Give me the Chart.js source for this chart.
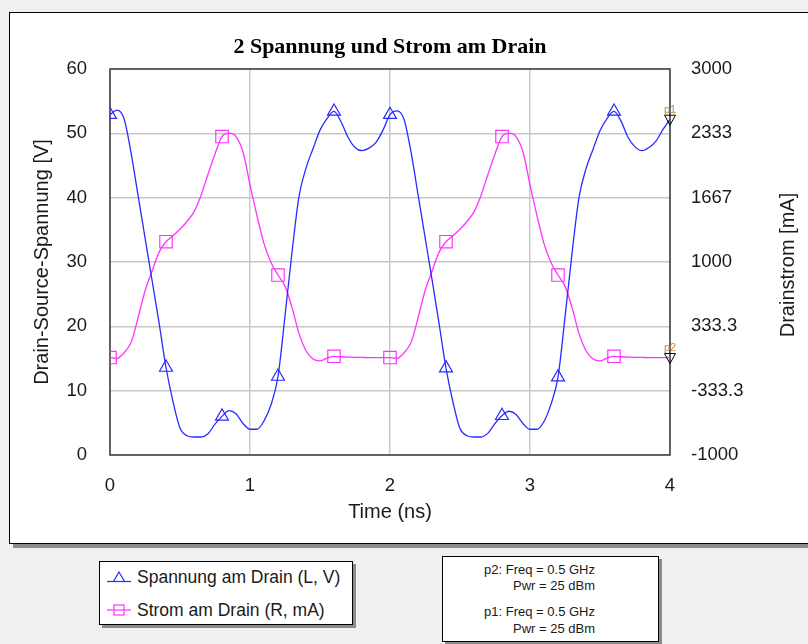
<!DOCTYPE html>
<html>
<head>
<meta charset="utf-8">
<script src="https://cdn.jsdelivr.net/npm/chart.js@4.4.1/dist/chart.umd.min.js"></script>
<style>
html, body { margin: 0; padding: 0; }
body { width: 808px; height: 644px; background: #f0f0f0; position: relative; overflow: hidden; font-family: "Liberation Sans", Arial, sans-serif; color: #1a1a1a; }
#frame { position: absolute; left: 9px; top: 12px; width: 830px; height: 530px; background: #fff; border: 1px solid #000; box-shadow: 4px 4px 0 #8c8c8c; }
#chartBox { position: absolute; left: 0; top: 0; width: 808px; height: 644px; }
.box { position: absolute; background: #fff; border: 1px solid #000; box-shadow: 3px 3px 0 #8c8c8c; }
#legend { left: 99px; top: 561px; width: 252px; height: 62px; }
.lrow { position: absolute; left: 7px; height: 20px; font-size: 17.5px; line-height: 20px; white-space: nowrap; }
.lrow svg { position: absolute; left: 0; top: 3px; }
.lrow span { position: absolute; left: 30px; top: 0; }
#markers { left: 442px; top: 556px; width: 215px; height: 84px; }
.mline { position: absolute; right: 63px; font-size: 13px; line-height: 15px; white-space: nowrap; }
</style>
</head>
<body>
<div id="frame"></div>
<div id="legend" class="box">
  <div class="lrow" style="top:5px;">
    <svg width="24" height="14"><line x1="0" y1="11.5" x2="24" y2="11.5" stroke="#2b2bff" stroke-width="1.2"/><polygon points="12,2 17.5,11.5 6.5,11.5" fill="none" stroke="#2b2bff" stroke-width="1.2"/></svg>
    <span>Spannung am Drain (L, V)</span>
  </div>
  <div class="lrow" style="top:38px;">
    <svg width="24" height="14"><line x1="0" y1="7" x2="24" y2="7" stroke="#ff33ff" stroke-width="1.2"/><rect x="7" y="2" width="10" height="10" fill="none" stroke="#ff33ff" stroke-width="1.2"/></svg>
    <span>Strom am Drain (R, mA)</span>
  </div>
</div>
<div id="markers" class="box">
  <div class="mline" style="top:5px;">p2: Freq = 0.5 GHz</div>
  <div class="mline" style="top:21px;">Pwr = 25 dBm</div>
  <div class="mline" style="top:47px;">p1: Freq = 0.5 GHz</div>
  <div class="mline" style="top:64px;">Pwr = 25 dBm</div>
</div>
<div id="chartBox"><canvas id="chart"></canvas></div>

<script>
// ---- data ----
const timeNs = [
  0.00, 0.05, 0.10, 0.15, 0.20, 0.25, 0.30, 0.35, 0.40, 0.45,
  0.50, 0.55, 0.60, 0.65, 0.70, 0.75, 0.80, 0.85, 0.90, 0.95,
  1.00, 1.05, 1.10, 1.15, 1.20, 1.25, 1.30, 1.35, 1.40, 1.45,
  1.50, 1.55, 1.60, 1.65, 1.70, 1.75, 1.80, 1.85, 1.90, 1.95,
  2.00, 2.05, 2.10, 2.15, 2.20, 2.25, 2.30, 2.35, 2.40, 2.45,
  2.50, 2.55, 2.60, 2.65, 2.70, 2.75, 2.80, 2.85, 2.90, 2.95,
  3.00, 3.05, 3.10, 3.15, 3.20, 3.25, 3.30, 3.35, 3.40, 3.45,
  3.50, 3.55, 3.60, 3.65, 3.70, 3.75, 3.80, 3.85, 3.90, 3.95,
  4.00
];

// Spannung am Drain [V]
const voltageV = [
  52.9, 53.6, 52.3, 47.0, 40.4, 33.8, 27.2, 20.6, 13.6, 8.3,
  4.2, 3.0, 2.8, 2.8, 3.3, 4.8, 6.0, 6.9, 6.4, 4.9,
  4.0, 4.0, 5.3, 7.8, 12.2, 21.6, 31.5, 40.2, 44.6, 47.6,
  50.5, 52.3, 53.4, 51.8, 49.4, 47.8, 47.3, 47.7, 48.6, 50.5,
  52.9, 53.5, 52.2, 47.1, 40.5, 33.9, 27.3, 20.5, 13.5, 8.2,
  4.1, 3.0, 2.8, 2.8, 3.4, 4.9, 6.1, 6.8, 6.3, 4.9,
  4.0, 4.0, 5.2, 7.9, 12.1, 21.4, 31.3, 40.0, 44.5, 47.5,
  50.4, 52.3, 53.4, 51.9, 49.4, 47.9, 47.3, 47.8, 48.8, 50.6,
  52.2
];

// Strom am Drain [mA]
const currentMA = [
  10, 0, 60, 165, 420, 700, 905, 1100, 1210, 1275,
  1340, 1420, 1520, 1690, 1910, 2120, 2300, 2335, 2300, 2140,
  1800, 1480, 1190, 995, 865, 750, 530, 260, 80, -5,
  -25, 5, 23, 18, 14, 12, 11, 10, 10, 10,
  10, 0, 60, 165, 420, 700, 905, 1100, 1210, 1275,
  1340, 1420, 1520, 1690, 1910, 2120, 2300, 2335, 2300, 2140,
  1800, 1480, 1190, 995, 865, 750, 530, 260, 80, -5,
  -25, 5, 23, 18, 14, 12, 11, 10, 10, 10,
  10
];

const timeTicks = [0, 1, 2, 3, 4];
const voltTicks = [0, 10, 20, 30, 40, 50, 60];
const currentTickValues = [-1000, -333.3, 333.3, 1000, 1667, 2333, 3000];
const currentTickLabels = ['-1000', '-333.3', '333.3', '1000', '1667', '2333', '3000'];
const markerStep = 8;   // a symbol every 0.4 ns
const endMarkers = ['p1', 'p2'];

const BLUE = '#2b2bff';
const PINK = '#ff33ff';
const GRID = '#c8c8c8';
const TXT = '#1a1a1a';
const SANS = '"Liberation Sans", Arial, sans-serif';

function symbolRadius(r) {
  return ctx => (ctx.dataIndex % markerStep === 0 && ctx.dataIndex < timeNs.length - 1) ? r : 0;
}

// title, axis titles, plot frame, p1/p2 markers
const decor = {
  id: 'decor',
  beforeDatasetsDraw(chart) {
    const { ctx, chartArea: a } = chart;
    ctx.save();
    ctx.strokeStyle = '#3c3c3c';
    ctx.lineWidth = 1.5;
    ctx.strokeRect(a.left, a.top, a.right - a.left, a.bottom - a.top);
    ctx.restore();
  },
  afterDatasetsDraw(chart) {
    const { ctx } = chart;
    ctx.save();
    chart.data.datasets.forEach((ds, i) => {
      const pts = chart.getDatasetMeta(i).data;
      const p = pts[pts.length - 1];
      ctx.strokeStyle = '#000';
      ctx.lineWidth = 1;
      ctx.beginPath();
      ctx.moveTo(p.x - 5.5, p.y - 4);
      ctx.lineTo(p.x + 5.5, p.y - 4);
      ctx.lineTo(p.x, p.y + 6);
      ctx.closePath();
      ctx.stroke();
      ctx.fillStyle = '#c08a40';
      ctx.font = '11px ' + SANS;
      ctx.textAlign = 'center';
      ctx.textBaseline = 'bottom';
      ctx.fillText(endMarkers[i], p.x, p.y - 4);
    });
    ctx.restore();
  },
  afterDraw(chart) {
    const { ctx, chartArea: a } = chart;
    const cx = (a.left + a.right) / 2;
    const cy = (a.top + a.bottom) / 2;
    ctx.save();
    ctx.fillStyle = '#000';
    ctx.textAlign = 'center';
    ctx.textBaseline = 'middle';
    ctx.font = 'bold 22px "Liberation Serif", "Times New Roman", serif';
    ctx.fillText('2 Spannung und Strom am Drain', cx, 47);
    ctx.fillStyle = TXT;
    ctx.font = '20px ' + SANS;
    ctx.fillText('Time (ns)', cx, 512);
    ctx.save();
    ctx.translate(42, cy);
    ctx.rotate(-Math.PI / 2);
    ctx.fillText('Drain-Source-Spannung [V]', 0, 0);
    ctx.restore();
    ctx.save();
    ctx.translate(788, cy + 3);
    ctx.rotate(-Math.PI / 2);
    ctx.fillText('Drainstrom [mA]', 0, 0);
    ctx.restore();
    ctx.restore();
  }
};

const tickFont = { family: SANS, size: 18.5 };

new Chart(document.getElementById('chart'), {
  type: 'line',
  data: {
    datasets: [
      {
        label: 'Spannung am Drain (L, V)',
        data: timeNs.map((t, i) => ({ x: t, y: voltageV[i] })),
        yAxisID: 'yV',
        borderColor: BLUE,
        borderWidth: 1.3,
        cubicInterpolationMode: 'monotone',
        pointStyle: 'triangle',
        pointRadius: symbolRadius(7.5),
        pointHoverRadius: 0,
        pointBorderColor: BLUE,
        pointBorderWidth: 1.2,
        pointBackgroundColor: 'rgba(0,0,0,0)'
      },
      {
        label: 'Strom am Drain (R, mA)',
        data: timeNs.map((t, i) => ({ x: t, y: currentMA[i] })),
        yAxisID: 'yI',
        borderColor: PINK,
        borderWidth: 1.3,
        cubicInterpolationMode: 'monotone',
        pointStyle: 'rect',
        pointRadius: symbolRadius(8.8),
        pointHoverRadius: 0,
        pointBorderColor: PINK,
        pointBorderWidth: 1.2,
        pointBackgroundColor: 'rgba(0,0,0,0)'
      }
    ]
  },
  options: {
    responsive: true,
    maintainAspectRatio: false,
    animation: false,
    events: [],
    layout: { padding: { top: 69, left: 0, right: 0, bottom: 0 } },
    plugins: { legend: { display: false }, tooltip: { enabled: false }, title: { display: false } },
    scales: {
      x: {
        type: 'linear',
        min: 0, max: 4,
        afterBuildTicks: s => { s.ticks = timeTicks.map(v => ({ value: v })); },
        afterFit: s => { s.height = 644 - 455; },
        grid: { color: GRID, lineWidth: 1.5, drawTicks: false },
        border: { display: false },
        ticks: { color: TXT, font: tickFont, padding: 20 }
      },
      yV: {
        position: 'left',
        min: 0, max: 60,
        afterBuildTicks: s => { s.ticks = voltTicks.map(v => ({ value: v })); },
        afterFit: s => { s.width = 110; },
        grid: { color: GRID, lineWidth: 1.5, drawTicks: false },
        border: { display: false },
        ticks: { color: TXT, font: tickFont, padding: 23 }
      },
      yI: {
        position: 'right',
        min: -1000, max: 3000,
        afterBuildTicks: s => { s.ticks = currentTickValues.map(v => ({ value: v })); },
        afterFit: s => { s.width = 808 - 670; },
        grid: { display: false, drawTicks: false },
        border: { display: false },
        ticks: { color: TXT, font: tickFont, padding: 21, callback: (v, i) => currentTickLabels[i] }
      }
    }
  },
  plugins: [decor]
});
</script>
</body>
</html>
